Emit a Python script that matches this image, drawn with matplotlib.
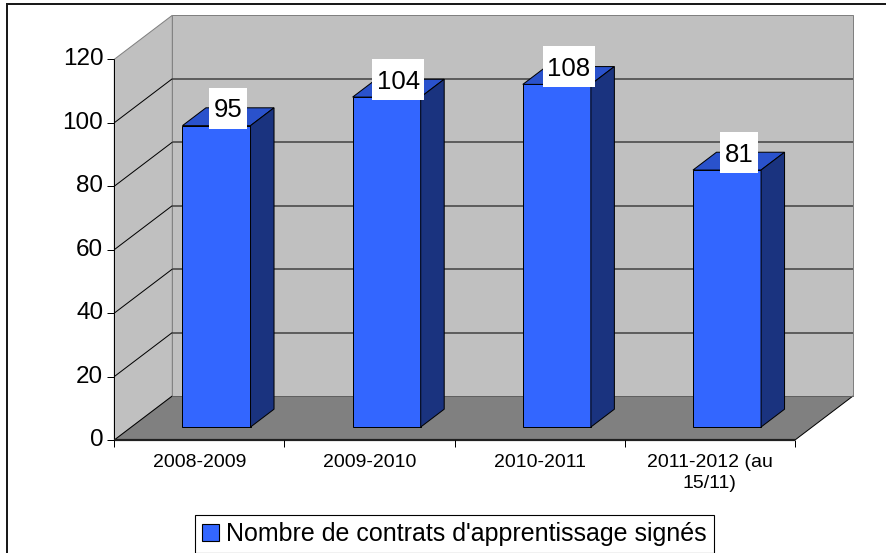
import matplotlib
matplotlib.use('Agg')
import matplotlib.pyplot as plt
from matplotlib.patches import Polygon, Patch, Rectangle
from matplotlib.lines import Line2D
from matplotlib.transforms import IdentityTransform

plt.rcParams['font.family'] = ['Liberation Sans', 'DejaVu Sans']

# ---- data ----
categories = ["2008-2009", "2009-2010", "2010-2011", "2011-2012 (au\n15/11)"]
values = [95, 104, 108, 81]
yticks = [0, 20, 40, 60, 80, 100, 120]
series_name = "Nombre de contrats d'apprentissage signés"

# ---- figure / axes ----
W, H = 887, 553
fig = plt.figure(figsize=(W / 100, H / 100), dpi=100)
fig.patch.set_facecolor('white')
X0, X1, Y0, Y1 = 114.3, 795.0, 440.0, 59.3   # front-plane box (pixels from top)
ax = fig.add_axes([X0 / W, (H - Y0) / H, (X1 - X0) / W, (Y0 - Y1) / H])
ax.set_xlim(0, len(categories))
ax.set_ylim(0, yticks[-1])
ax.axis('off')

DX, DY = 58.0, 44.0          # oblique offset (display px) for full depth
D0, D1 = 0.295, 0.70         # bar depth range
BW = 0.4                     # bar width in category units
ID = IdentityTransform()
PX = 0.72                    # points per pixel


def P(x, v, d):
    px, py = ax.transData.transform((x, v))
    return (px + d * DX, py + d * DY)


def poly(pts, fc, ec='none', lw=0.0, z=1):
    ax.add_patch(Polygon(pts, closed=True, transform=ID, facecolor=fc,
                         edgecolor=ec, linewidth=lw, clip_on=False, zorder=z))


def line(p, q, color, lw, z=2):
    ax.add_line(Line2D([p[0], q[0]], [p[1], q[1]], transform=ID, color=color,
                       linewidth=lw, clip_on=False, zorder=z,
                       solid_capstyle='butt'))


n = len(categories)
vmax = yticks[-1]

# walls and floor
poly([P(0, 0, 1), P(n, 0, 1), P(n, vmax, 1), P(0, vmax, 1)], '#C0C0C0', '#808080', 1 * PX, 0)
poly([P(0, 0, 0), P(0, vmax, 0), P(0, vmax, 1), P(0, 0, 1)], '#C0C0C0', '#808080', 1 * PX, 0)
poly([P(0, 0, 0), P(n, 0, 0), P(n, 0, 1), P(0, 0, 1)], '#808080', 'none', 0, 1)

# gridlines
for v in yticks[1:-1]:
    line(P(0, v, 1), P(n, v, 1), '#5E5E5E', 2 * PX, 1)
    line(P(0, v, 0), P(0, v, 1), 'black', 1 * PX, 1)
line(P(0, 0, 0), P(0, 0, 1), 'black', 1 * PX, 1.5)
line(P(n, 0, 0), P(n, 0, 1), 'black', 1 * PX, 1.5)
line(P(0, 0, 1), P(n, 0, 1), '#606060', 1 * PX, 1.5)

# axes lines and ticks
line(P(0, 0, 0), P(0, vmax, 0), 'black', 1 * PX, 2)
line(P(0, 0, 0), P(n, 0, 0), '#202020', 2.2 * PX, 2)
for v in yticks:
    p = P(0, v, 0)
    line((p[0] - 7, p[1]), p, 'black', 1 * PX, 2)
    ax.text(p[0] - 11, p[1], str(v), transform=ID, ha='right', va='center',
            fontsize=17.5, color='black')
for i in range(n + 1):
    p = P(i, 0, 0)
    line(p, (p[0], p[1] - 7), 'black', 1 * PX, 2)
for i, c in enumerate(categories):
    p = P(i + 0.5, 0, 0)
    ax.text(p[0], p[1] - 14, c, transform=ID, ha='center', va='top',
            multialignment='center', fontsize=14, color='black',
            linespacing=1.3)

# bars
labels = []
for i, v in enumerate(values):
    xa = i + 0.5 - BW / 2
    xb = i + 0.5 + BW / 2
    poly([P(xa, 0, D0), P(xb, 0, D0), P(xb, v, D0), P(xa, v, D0)], '#3366FF', 'black', 1 * PX, 3)
    poly([P(xa, v, D0), P(xb, v, D0), P(xb, v, D1), P(xa, v, D1)], '#2A52CC', 'black', 1 * PX, 3)
    poly([P(xb, 0, D0), P(xb, 0, D1), P(xb, v, D1), P(xb, v, D0)], '#1A337F', 'black', 1 * PX, 3)
    c = P(i + 0.5, v, (D0 + D1) / 2)
    t = ax.text(c[0], c[1] + 6.5, str(v), transform=ID, ha='center', va='center',
                fontsize=18.5, color='black', zorder=6)
    labels.append((t, c))

# white boxes behind data labels, sized from the rendered text
fig.canvas.draw()
for t, c in labels:
    bb = t.get_window_extent()
    cy = c[1] + 8.5
    ax.add_patch(Rectangle((bb.x0 - 4.5, cy - 20.5), bb.width + 9, 41,
                           transform=ID, facecolor='white', edgecolor='none',
                           clip_on=False, zorder=5))

# legend
leg = fig.legend(handles=[Patch(facecolor='#3366FF', edgecolor='black', linewidth=0.8)],
                 labels=[series_name], loc='center',
                 bbox_to_anchor=(454.5 / W, (H - 534) / H), fontsize=18,
                 frameon=True, fancybox=False, edgecolor='black',
                 handlelength=0.68, handleheight=0.68, handletextpad=0.3,
                 borderpad=0.28, borderaxespad=0)
leg.get_frame().set_linewidth(0.8)
leg.get_frame().set_alpha(1)

# outer border (top and left)
fig.add_artist(Line2D([7 / W, 1], [1 - 4 / H, 1 - 4 / H], transform=fig.transFigure,
                      color='#1A1A1A', linewidth=2 * PX))
fig.add_artist(Line2D([7 / W, 7 / W], [0, 1 - 4 / H], transform=fig.transFigure,
                      color='#1A1A1A', linewidth=2 * PX))

fig.savefig('out.png', dpi=100, facecolor='white')
